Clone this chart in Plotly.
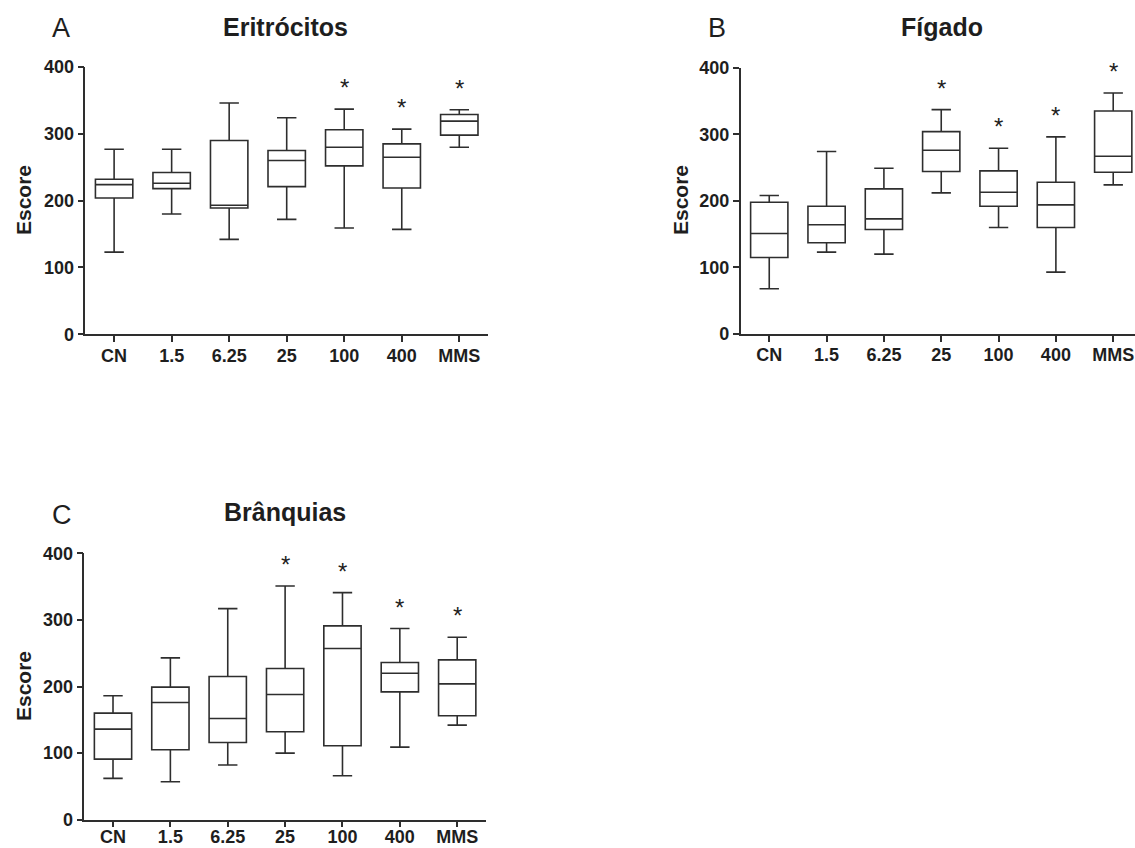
import plotly.graph_objects as go

# Dose groups on the x axis
groups = ["CN", "1.5", "6.25", "25", "100", "400", "MMS"]

# Eritrócitos (A): box statistics per group
eri_low = [123, 180, 142, 172, 159, 157, 280]
eri_q1 = [204, 218, 189, 221, 252, 219, 298]
eri_med = [224, 226, 193, 260, 280, 265, 319]
eri_q3 = [232, 242, 290, 275, 306, 285, 329]
eri_high = [277, 277, 346, 324, 337, 307, 336]
eri_sig = [False, False, False, False, True, True, True]

# Fígado (B)
fig_low = [68, 123, 120, 212, 160, 93, 224]
fig_q1 = [115, 137, 157, 244, 192, 160, 243]
fig_med = [151, 164, 173, 276, 213, 194, 267]
fig_q3 = [198, 192, 218, 304, 245, 228, 335]
fig_high = [208, 274, 249, 337, 279, 296, 362]
fig_sig = [False, False, False, True, True, True, True]

# Brânquias (C)
bra_low = [62, 57, 82, 100, 66, 109, 142]
bra_q1 = [91, 105, 116, 132, 111, 192, 156]
bra_med = [136, 176, 152, 188, 257, 220, 204]
bra_q3 = [160, 199, 215, 227, 291, 236, 240]
bra_high = [186, 243, 317, 351, 341, 287, 274]
bra_sig = [False, False, False, True, True, True, True]

panels = [
    ("A", "Eritrócitos", eri_low, eri_q1, eri_med, eri_q3, eri_high, eri_sig),
    ("B", "Fígado", fig_low, fig_q1, fig_med, fig_q3, fig_high, fig_sig),
    ("C", "Brânquias", bra_low, bra_q1, bra_med, bra_q3, bra_high, bra_sig),
]

FONT = "Liberation Sans, Arial, sans-serif"
INK = "#1e1e1e"
LINE = "#2e2e2e"
W, H = 1135, 848

# Plot-area placement for each panel (paper fractions) and x range
x_domains = [[0.0752, 0.4300], [0.6525, 1.0], [0.0743, 0.4281]]
y_domains = [[0.6058, 0.9210], [0.6061, 0.9202], [0.0334, 0.3475]]
x_ranges = [[-0.5, 6.5], [-0.5, 6.38], [-0.5, 6.5]]
x_label_standoff = [-2, -2, -6]

# Panel letter / title / y-title positions in pixels
letter_pos = [(61, 28), (717, 28), (62, 515)]
title_pos = [(285, 27), (942, 27), (285, 512)]
ytitle_pos = [(23, 200), (680, 200), (23, 686)]

fig = go.Figure()
annotations = []
layout_axes = {}

for i, (letter, title, low, q1, med, q3, high, sig) in enumerate(panels):
    n = "" if i == 0 else str(i + 1)
    xa, ya = "x" + n, "y" + n
    fig.add_trace(go.Box(
        x=groups, q1=q1, median=med, q3=q3,
        lowerfence=low, upperfence=high,
        xaxis=xa, yaxis=ya,
        boxpoints=False, width=0.65, whiskerwidth=0.52,
        fillcolor="rgba(255,255,255,0)",
        line=dict(color=LINE, width=1.6),
        showlegend=False, hoverinfo="skip",
    ))

    common = dict(
        showline=True, linecolor=LINE, linewidth=1.6,
        ticks="outside", ticklen=6, tickwidth=1.6, tickcolor=LINE,
        showgrid=False, zeroline=False, automargin=False,
        tickfont=dict(family=FONT, size=18, color=INK, weight="bold"),
    )
    layout_axes["xaxis" + n] = dict(
        common, domain=x_domains[i], range=x_ranges[i],
        type="category", categoryorder="array", categoryarray=groups,
        ticklabelstandoff=x_label_standoff[i],
        anchor=ya, fixedrange=True,
    )
    layout_axes["yaxis" + n] = dict(
        common, domain=y_domains[i], range=[0, 400],
        tickvals=[0, 100, 200, 300, 400], anchor=xa, fixedrange=True,
    )

    # Significance asterisks above the upper whisker (x given as category index)
    for j, (h, s) in enumerate(zip(high, sig)):
        if s:
            annotations.append(dict(
                x=j, y=h + 32, xref=xa, yref=ya, text="*", showarrow=False,
                font=dict(family=FONT, size=24, color=INK),
                xanchor="center", yanchor="middle",
            ))

    lx, ly = letter_pos[i]
    annotations.append(dict(
        x=lx / W, y=1 - ly / H, xref="paper", yref="paper", text=letter,
        showarrow=False, font=dict(family=FONT, size=27, color=INK),
        xanchor="center", yanchor="middle",
    ))
    tx, ty = title_pos[i]
    annotations.append(dict(
        x=tx / W, y=1 - ty / H, xref="paper", yref="paper", text="<b>" + title + "</b>",
        showarrow=False, font=dict(family=FONT, size=25, color=INK),
        xanchor="center", yanchor="middle",
    ))
    ex, ey = ytitle_pos[i]
    annotations.append(dict(
        x=ex / W, y=1 - ey / H, xref="paper", yref="paper", text="<b>Escore</b>",
        showarrow=False, textangle=-90,
        font=dict(family=FONT, size=21, color=INK),
        xanchor="center", yanchor="middle",
    ))

fig.update_layout(
    template="none",
    width=W, height=H,
    margin=dict(l=0, r=0, t=0, b=0, autoexpand=False),
    paper_bgcolor="white", plot_bgcolor="white",
    annotations=annotations,
    **layout_axes,
)

fig.write_html("out.html", config={"displayModeBar": False})
